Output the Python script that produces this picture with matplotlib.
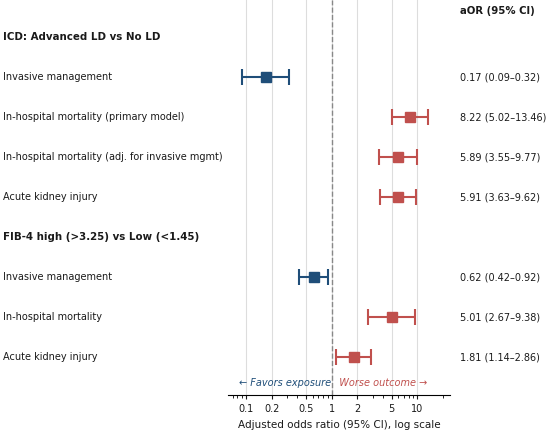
import matplotlib
matplotlib.use("Agg")
import matplotlib.pyplot as plt
import matplotlib.ticker as ticker
from matplotlib.transforms import blended_transform_factory

# rows top to bottom; headers have no estimate
labels = [
    "ICD: Advanced LD vs No LD",
    "Invasive management",
    "In-hospital mortality (primary model)",
    "In-hospital mortality (adj. for invasive mgmt)",
    "Acute kidney injury",
    "FIB-4 high (>3.25) vs Low (<1.45)",
    "Invasive management",
    "In-hospital mortality",
    "Acute kidney injury",
]
is_header = [True, False, False, False, False, True, False, False, False]
aor = [None, 0.17, 8.22, 5.89, 5.91, None, 0.62, 5.01, 1.81]
ci_low = [None, 0.09, 5.02, 3.55, 3.63, None, 0.42, 2.67, 1.14]
ci_high = [None, 0.32, 13.46, 9.77, 9.62, None, 0.92, 9.38, 2.86]
ticks = [0.1, 0.2, 0.5, 1, 2, 5, 10]
tick_labels = ["0.1", "0.2", "0.5", "1", "2", "5", "10"]

BLUE = "#1f4e79"
RED = "#c0504d"
TXT = "#1a1a1a"

fig = plt.figure(figsize=(5.5, 4.33), dpi=100)
ax = fig.add_axes([228 / 550, 1 - 395 / 433, 222 / 550, 395 / 433])

for t in ticks:
    ax.axvline(t, color="#dddddd", linewidth=0.8, zorder=0)
ax.axvline(1, color="#888888", linestyle="--", linewidth=1.0, zorder=1)

trans_lab = blended_transform_factory(fig.transFigure, ax.transData)
for i, lab in enumerate(labels):
    ax.text(3 / 550, i, lab, transform=trans_lab, ha="left", va="center",
            fontsize=7.4 if is_header[i] else 7, color=TXT,
            fontweight="bold" if is_header[i] else "normal")
    if aor[i] is None:
        continue
    color = BLUE if aor[i] < 1 else RED
    ax.errorbar(aor[i], i,
                xerr=[[aor[i] - ci_low[i]], [ci_high[i] - aor[i]]],
                fmt="s", color=color, markersize=6.6, elinewidth=1.5,
                capsize=5.8, capthick=1.5, zorder=3)
    ax.text(460 / 550, i, f"{aor[i]:.2f} ({ci_low[i]:.2f}\u2013{ci_high[i]:.2f})",
            transform=trans_lab, ha="left", va="center", fontsize=7, color=TXT)

ax.text(460 / 550, -0.65, "aOR (95% CI)", transform=trans_lab, ha="left",
        va="center", fontsize=7.3, fontweight="bold", color=TXT)

ax.text(0.98, 8.65, "\u2190 Favors exposure", ha="right", va="center",
        fontsize=7, color=BLUE, style="italic")
ax.text(1.03, 8.65, "  Worse outcome \u2192", ha="left", va="center",
        fontsize=7, color=RED, style="italic")

ax.set_xscale("log")
ax.set_xlim(0.062, 24)
ax.set_ylim(8.95, -0.925)
ax.set_xticks(ticks)
ax.set_xticklabels(tick_labels)
ax.xaxis.set_minor_locator(ticker.LogLocator(subs="all"))
ax.xaxis.set_minor_formatter(ticker.NullFormatter())
ax.tick_params(axis="x", labelsize=7, length=3, width=0.8, colors=TXT)
ax.tick_params(axis="x", which="minor", length=2, width=0.6)
ax.set_yticks([])
for side in ["top", "left", "right"]:
    ax.spines[side].set_visible(False)
ax.spines["bottom"].set_linewidth(0.8)
ax.set_xlabel("Adjusted odds ratio (95% CI), log scale", fontsize=7.5,
              color=TXT, labelpad=4)

fig.savefig("out.png", dpi=100)
